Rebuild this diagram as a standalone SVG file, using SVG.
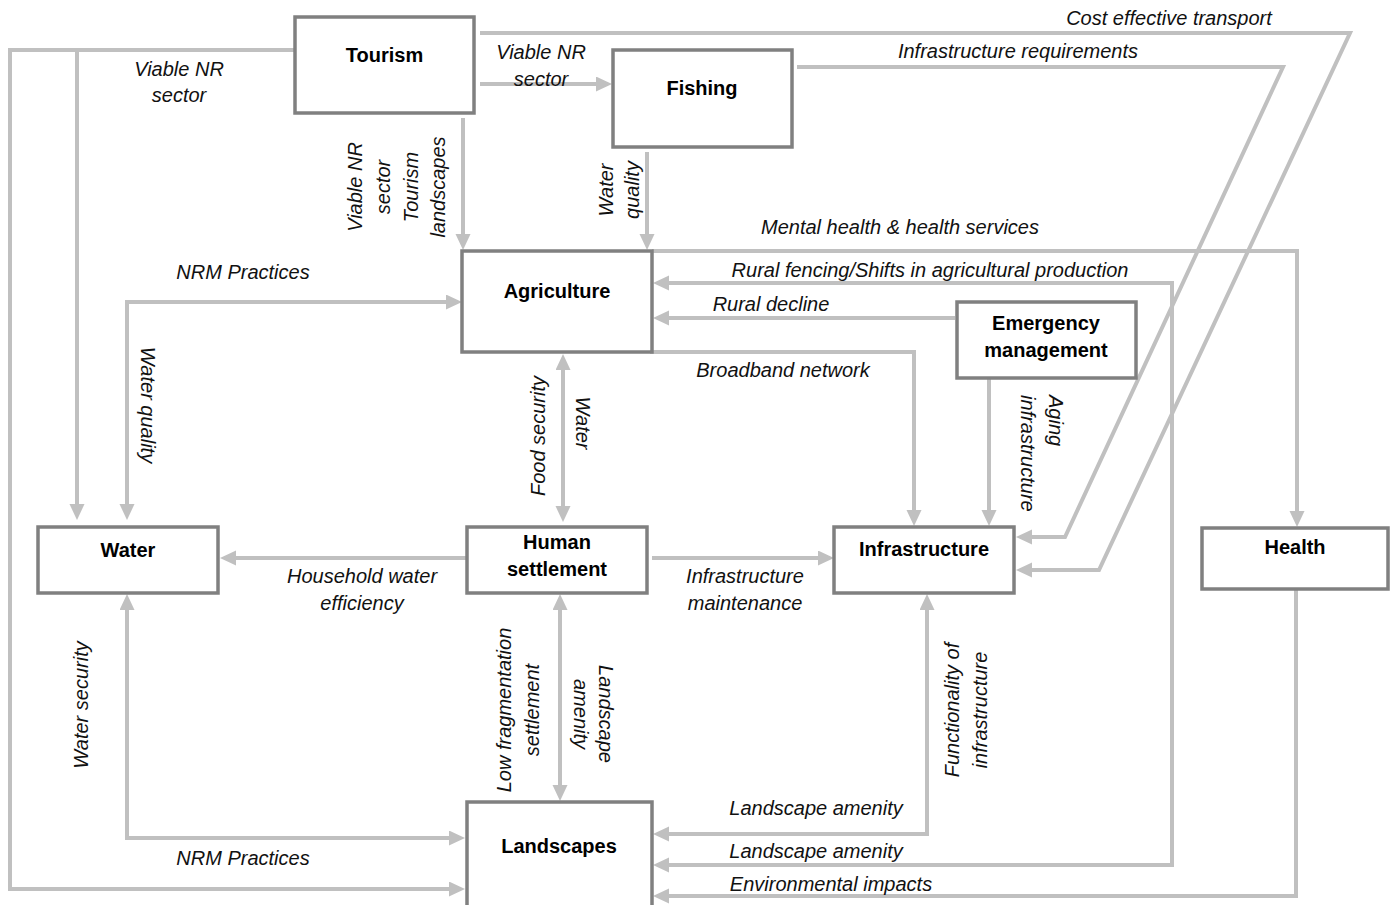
<svg xmlns="http://www.w3.org/2000/svg" width="1394" height="905" viewBox="0 0 1394 905">
<style>
.node rect{fill:#fff;stroke:#808080;stroke-width:3.5}
.node text{font-family:"Liberation Sans",Arial,sans-serif;font-size:20px;font-weight:bold;fill:#000;text-anchor:middle}
.conn path{fill:none;stroke:#c0c0c0;stroke-width:4;stroke-linejoin:miter}
.lbl{font-family:"Liberation Sans",Arial,sans-serif;font-size:20px;font-style:italic;fill:#111;text-anchor:middle}
.st{text-anchor:start}
</style>
<defs>
<marker id="ah" markerUnits="userSpaceOnUse" markerWidth="17" markerHeight="16" refX="11" refY="7.5" orient="auto-start-reverse">
<path d="M0,0 L16,7.5 L0,15 z" fill="#c0c0c0"/>
</marker>
</defs>
<rect width="1394" height="905" fill="#fff"/>
<g id="connectors" class="conn">
<path d="M295,50 H10 V889 H460" marker-end="url(#ah)"/>
<path d="M77,50 V515" marker-end="url(#ah)"/>
<path d="M480,84 H607" marker-end="url(#ah)"/>
<path d="M480,33 H1350 L1099,570 H1021" marker-end="url(#ah)"/>
<path d="M797,67 H1283 L1065,537 H1021" marker-end="url(#ah)"/>
<path d="M463,118 V245" marker-end="url(#ah)"/>
<path d="M647,152 V245" marker-end="url(#ah)"/>
<path d="M652,251 H1297 V522" marker-end="url(#ah)"/>
<path d="M658,283 H1172 V865 H658" marker-start="url(#ah)" marker-end="url(#ah)"/>
<path d="M955,318 H658" marker-end="url(#ah)"/>
<path d="M650,352 H914 V521" marker-end="url(#ah)"/>
<path d="M989,378 V521" marker-end="url(#ah)"/>
<path d="M563,359 V517" marker-start="url(#ah)" marker-end="url(#ah)"/>
<path d="M466,558 H225" marker-end="url(#ah)"/>
<path d="M652,558 H829" marker-end="url(#ah)"/>
<path d="M560,599 V796" marker-start="url(#ah)" marker-end="url(#ah)"/>
<path d="M127,599 V838 H460" marker-start="url(#ah)" marker-end="url(#ah)"/>
<path d="M127,515 V302 H457" marker-start="url(#ah)" marker-end="url(#ah)"/>
<path d="M927,599 V834 H658" marker-start="url(#ah)" marker-end="url(#ah)"/>
<path d="M1296,590 V896 H658" marker-end="url(#ah)"/>
</g>
<g id="labels">
<text class="lbl" x="179" y="76">Viable NR<tspan x="179" y="102">sector</tspan></text>
<text class="lbl" x="541" y="59">Viable NR<tspan x="541" y="86">sector</tspan></text>
<text class="lbl" x="1169" y="25">Cost effective transport</text>
<text class="lbl" x="1018" y="58">Infrastructure requirements</text>
<text class="lbl" transform="translate(362,187) rotate(-90)"><tspan x="0" y="0">Viable NR</tspan><tspan x="0" y="28">sector</tspan><tspan x="0" y="56">Tourism</tspan><tspan x="0" y="83">landscapes</tspan></text>
<text class="lbl" transform="translate(613,190) rotate(-90)"><tspan x="0" y="0">Water</tspan><tspan x="0" y="26">quality</tspan></text>
<text class="lbl" x="900" y="234">Mental health &amp; health services</text>
<text class="lbl" x="930" y="277">Rural fencing/Shifts in agricultural production</text>
<text class="lbl" x="771" y="311">Rural decline</text>
<text class="lbl" x="783" y="377">Broadband network</text>
<text class="lbl" x="243" y="279">NRM Practices</text>
<text class="lbl" transform="translate(141,405) rotate(90)">Water quality</text>
<text class="lbl" transform="translate(545,436) rotate(-90)">Food security</text>
<text class="lbl" transform="translate(576,423) rotate(90)">Water</text>
<text class="lbl st" transform="translate(1049,395) rotate(90)"><tspan x="0" y="0">Aging</tspan><tspan x="0" y="28">infrastructure</tspan></text>
<text class="lbl" x="362" y="583">Household water<tspan x="362" y="610">efficiency</tspan></text>
<text class="lbl" x="745" y="583">Infrastructure<tspan x="745" y="610">maintenance</tspan></text>
<text class="lbl" transform="translate(88,705) rotate(-90)">Water security</text>
<text class="lbl" transform="translate(511,710) rotate(-90)"><tspan x="0" y="0">Low fragmentation</tspan><tspan x="0" y="28">settlement</tspan></text>
<text class="lbl" transform="translate(599,714) rotate(90)"><tspan x="0" y="0">Landscape</tspan><tspan x="0" y="25">amenity</tspan></text>
<text class="lbl" transform="translate(959,710) rotate(-90)"><tspan x="0" y="0">Functionality of</tspan><tspan x="0" y="28">infrastructure</tspan></text>
<text class="lbl" x="816" y="815">Landscape amenity</text>
<text class="lbl" x="243" y="865">NRM Practices</text>
<text class="lbl" x="816" y="858">Landscape amenity</text>
<text class="lbl" x="831" y="891">Environmental impacts</text>
</g>
<g id="tourism" class="node"><rect x="295" y="17" width="179" height="96"/><text x="384.5" y="62">Tourism</text></g>
<g id="fishing" class="node"><rect x="613" y="50" width="179" height="97"/><text x="702" y="95">Fishing</text></g>
<g id="agriculture" class="node"><rect x="462" y="251" width="190" height="101"/><text x="557" y="298">Agriculture</text></g>
<g id="emergency" class="node"><rect x="957" y="302" width="179" height="76"/><text x="1046" y="330">Emergency<tspan x="1046" y="357">management</tspan></text></g>
<g id="water" class="node"><rect x="38" y="527" width="180" height="66"/><text x="128" y="557">Water</text></g>
<g id="human-settlement" class="node"><rect x="467" y="527" width="180" height="66"/><text x="557" y="549">Human<tspan x="557" y="576">settlement</tspan></text></g>
<g id="infrastructure" class="node"><rect x="834" y="527" width="180" height="66"/><text x="924" y="556">Infrastructure</text></g>
<g id="health" class="node"><rect x="1202" y="528" width="186" height="61"/><text x="1295" y="554">Health</text></g>
<g id="landscapes" class="node"><rect x="467" y="802" width="185" height="110"/><text x="559" y="853">Landscapes</text></g>
</svg>
